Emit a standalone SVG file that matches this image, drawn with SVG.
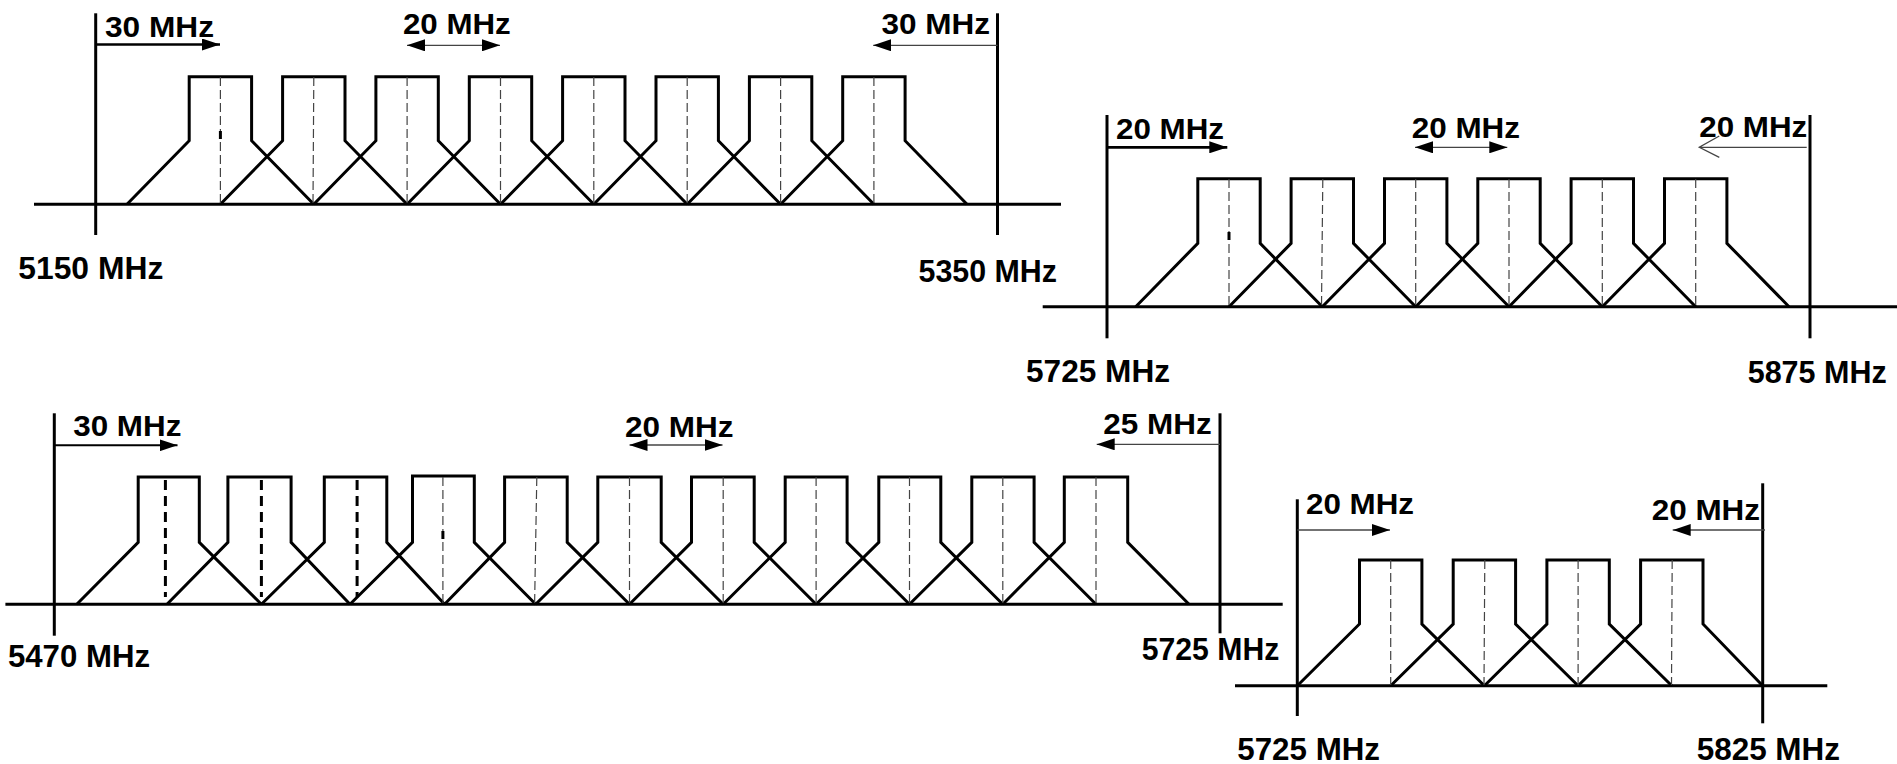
<svg xmlns="http://www.w3.org/2000/svg" width="1897" height="764" viewBox="0 0 1897 764">
<style>
.bg{fill:#fff}
.ax{stroke:#000;stroke-width:3;fill:none}
.ch{stroke:#000;stroke-width:3;fill:none;stroke-linejoin:miter}
.ds{stroke:#444;stroke-width:1.2;stroke-dasharray:9 4;fill:none}
.dsb{stroke:#000;stroke-width:3;stroke-dasharray:10 6;fill:none}
.mk{stroke:#000;stroke-width:3}
.ab{stroke:#000;stroke-width:2.7;fill:none}
.at{stroke:#444;stroke-width:1.3;fill:none}
.lb{font-family:"Liberation Sans",Arial,sans-serif;font-weight:bold;font-size:30px;fill:#000}
.fq{font-size:31px}
</style>
<defs>
<marker id="ah" markerUnits="userSpaceOnUse" markerWidth="18" markerHeight="12" refX="18" refY="6" orient="auto-start-reverse" viewBox="0 0 18 12">
<path d="M0,0 L18,6 L0,12 z" fill="#000"/>
</marker>
</defs>
<rect class="bg" x="0" y="0" width="1897" height="764"/>

<g id="band-5150-5350">
<line class="ax" x1="34" y1="204.3" x2="1061" y2="204.3"/>
<line class="ax" x1="95.7" y1="13.3" x2="95.7" y2="235"/>
<line class="ax" x1="997.5" y1="13.3" x2="997.5" y2="235"/>
<path class="ch" d="M127,204.3 L189.2,140.7 V76.7 H251.6 V140.7 L313.8,204.3"/>
<path class="ch" d="M220.4,204.3 L282.6,140.7 V76.7 H345 V140.7 L407.1,204.3"/>
<path class="ch" d="M313.8,204.3 L375.9,140.7 V76.7 H438.3 V140.7 L500.5,204.3"/>
<path class="ch" d="M407.1,204.3 L469.3,140.7 V76.7 H531.7 V140.7 L593.8,204.3"/>
<path class="ch" d="M500.5,204.3 L562.6,140.7 V76.7 H625 V140.7 L687.2,204.3"/>
<path class="ch" d="M593.8,204.3 L656,140.7 V76.7 H718.4 V140.7 L780.6,204.3"/>
<path class="ch" d="M687.2,204.3 L749.4,140.7 V76.7 H811.8 V140.7 L873.9,204.3"/>
<path class="ch" d="M780.6,204.3 L842.7,140.7 V76.7 H905.1 V140.7 L967,204.3"/>
<path class="ds" d="M220.4,77 V204 M313.8,77 L313,204 M407.1,77 V204 M500.5,77 V204 M593.8,77 V204 M687.2,77 V204 M780.6,77 V204 M873.9,77 V204"/>
<line class="mk" x1="220.4" y1="131" x2="220.4" y2="139"/>
<text class="lb fq" x="18.3" y="279.3" textLength="145" lengthAdjust="spacingAndGlyphs">5150 MHz</text>
<text class="lb fq" x="918.6" y="281.7" textLength="138.4" lengthAdjust="spacingAndGlyphs">5350 MHz</text>
<text class="lb" x="105" y="36.7" textLength="109" lengthAdjust="spacingAndGlyphs">30 MHz</text>
<text class="lb" x="402.9" y="34.3" textLength="107.8" lengthAdjust="spacingAndGlyphs">20 MHz</text>
<text class="lb" x="881.4" y="34.3" textLength="108.6" lengthAdjust="spacingAndGlyphs">30 MHz</text>
</g>

<g id="band-5725-5875">
<line class="ax" x1="1042.7" y1="306.7" x2="1897" y2="306.7"/>
<line class="ax" x1="1107" y1="115" x2="1107" y2="338.3"/>
<line class="ax" x1="1810" y1="115" x2="1810" y2="338.3"/>
<path class="ch" d="M1135.7,306.7 L1197.8,243.3 V178.7 H1260.2 V243.3 L1322.3,306.7"/>
<path class="ch" d="M1229,306.7 L1291.1,243.3 V178.7 H1353.5 V243.3 L1415.7,306.7"/>
<path class="ch" d="M1322.3,306.7 L1384.5,243.3 V178.7 H1446.9 V243.3 L1509,306.7"/>
<path class="ch" d="M1415.7,306.7 L1477.8,243.3 V178.7 H1540.2 V243.3 L1602.3,306.7"/>
<path class="ch" d="M1509,306.7 L1571.1,243.3 V178.7 H1633.5 V243.3 L1695.7,306.7"/>
<path class="ch" d="M1602.3,306.7 L1664.5,243.3 V178.7 H1726.9 V243.3 L1789,306.7"/>
<path class="ds" d="M1229,179 V306 M1322.8,179 L1321.5,306 M1415.7,179 V306 M1509,179 V306 M1602.3,179 V306 M1695.7,179 V306"/>
<line class="mk" x1="1229" y1="232" x2="1229" y2="240"/>
<text class="lb fq" x="1026" y="381.7" textLength="144" lengthAdjust="spacingAndGlyphs">5725 MHz</text>
<text class="lb fq" x="1747.7" y="383.3" textLength="139" lengthAdjust="spacingAndGlyphs">5875 MHz</text>
<text class="lb" x="1116" y="139.3" textLength="108" lengthAdjust="spacingAndGlyphs">20 MHz</text>
<text class="lb" x="1411.7" y="137.7" textLength="108.3" lengthAdjust="spacingAndGlyphs">20 MHz</text>
<text class="lb" x="1699.3" y="136.7" textLength="108" lengthAdjust="spacingAndGlyphs">20 MHz</text>
</g>

<g id="band-5470-5725">
<line class="ax" x1="5.4" y1="604.3" x2="1282.7" y2="604.3"/>
<line class="ax" x1="54.3" y1="413.3" x2="54.3" y2="635.7"/>
<line class="ax" x1="1220" y1="413.3" x2="1220" y2="633.3"/>
<path class="ch" d="M76.8,604.3 L138.2,542.3 V477 H199.3 V542.3 L261.4,604.3"/>
<path class="ch" d="M167,604.3 L227.9,542.3 V477 H291.1 V542.3 L350,604.3"/>
<path class="ch" d="M261.4,604.3 L324.3,542.3 V477 H386.8 V542.3 L444.6,604.3"/>
<path class="ch" d="M350,604.3 L412.5,542.3 V476 H474.3 V542.3 L535.7,604.3"/>
<path class="ch" d="M444.6,604.3 L504.6,542.3 V477 H567.2 V542.3 L629.5,604.3"/>
<path class="ch" d="M535.7,604.3 L597.8,542.3 V477 H661.2 V542.3 L723.2,604.3"/>
<path class="ch" d="M629.5,604.3 L691.5,542.3 V477 H754.2 V542.3 L816.1,604.3"/>
<path class="ch" d="M723.2,604.3 L785.2,542.3 V477 H847.1 V542.3 L909.5,604.3"/>
<path class="ch" d="M816.1,604.3 L878.8,542.3 V477 H940.8 V542.3 L1002.8,604.3"/>
<path class="ch" d="M909.5,604.3 L971.8,542.3 V477 H1034.1 V542.3 L1096,604.3"/>
<path class="ch" d="M1002.8,604.3 L1064.3,542.3 V477 H1127.7 V542.3 L1189,604.3"/>
<path class="dsb" d="M165.4,480 V597 M261.4,480 V597 M357.1,480 V597"/>
<path class="ds" d="M442.9,477 V604 M536.8,477 L534.6,604 M629.5,477 V604 M723.2,477 V604 M816.1,477 V604 M909.5,477 V604 M1002.8,477 V604 M1096,477 V604"/>
<line class="mk" x1="442.9" y1="531" x2="442.9" y2="539"/>
<text class="lb fq" x="7.9" y="666.7" textLength="142.1" lengthAdjust="spacingAndGlyphs">5470 MHz</text>
<text class="lb fq" x="1141.7" y="660" textLength="137.6" lengthAdjust="spacingAndGlyphs">5725 MHz</text>
<text class="lb" x="73.2" y="436" textLength="108.2" lengthAdjust="spacingAndGlyphs">30 MHz</text>
<text class="lb" x="625" y="437.3" textLength="108.5" lengthAdjust="spacingAndGlyphs">20 MHz</text>
<text class="lb" x="1103.3" y="434.3" textLength="108.4" lengthAdjust="spacingAndGlyphs">25 MHz</text>
</g>

<g id="band-5725-5825">
<line class="ax" x1="1235" y1="685.7" x2="1827.3" y2="685.7"/>
<line class="ax" x1="1297.3" y1="499.3" x2="1297.3" y2="716"/>
<line class="ax" x1="1762.7" y1="483.3" x2="1762.7" y2="723.3"/>
<path class="ch" d="M1297.3,685.7 L1359.5,624 V560 H1421.9 V624 L1484.4,685.7"/>
<path class="ch" d="M1390.7,685.7 L1453.2,624 V560 H1515.6 V624 L1578.1,685.7"/>
<path class="ch" d="M1484.4,685.7 L1546.9,624 V560 H1609.3 V624 L1671.8,685.7"/>
<path class="ch" d="M1578.1,685.7 L1640.6,624 V560 H1703 V624 L1762.7,685.7"/>
<path class="ds" d="M1390.7,560 V685 M1484.8,560 L1484,685 M1578.1,560 V685 M1672.2,560 L1671.5,685"/>
<text class="lb fq" x="1237.3" y="760" textLength="142.7" lengthAdjust="spacingAndGlyphs">5725 MHz</text>
<text class="lb fq" x="1696.7" y="760" textLength="143.3" lengthAdjust="spacingAndGlyphs">5825 MHz</text>
<text class="lb" x="1306" y="514.3" textLength="108" lengthAdjust="spacingAndGlyphs">20 MHz</text>
<text class="lb" x="1651.7" y="520" textLength="108.3" lengthAdjust="spacingAndGlyphs">20 MHz</text>
</g>

<g id="connectors">
<path class="ab" d="M95.7,44.5 H220" marker-end="url(#ah)"/>
<path class="at" d="M407,45.3 H500" marker-start="url(#ah)" marker-end="url(#ah)"/>
<path class="at" d="M997.5,45.3 H873.2" marker-end="url(#ah)"/>
<path class="ab" d="M1107,147.3 H1227.3" marker-end="url(#ah)"/>
<path class="at" d="M1415,147.3 H1507.3" marker-start="url(#ah)" marker-end="url(#ah)"/>
<path class="at" d="M1806.7,147.3 H1699.3 M1719.3,136 L1699.3,147.3 L1719.3,157.3"/>
<path class="ab" style="stroke-width:2" d="M54.3,445.3 H177.5" marker-end="url(#ah)"/>
<path class="at" d="M629.5,445 H722.5" marker-start="url(#ah)" marker-end="url(#ah)"/>
<path class="at" d="M1220,444.3 H1096.7" marker-end="url(#ah)"/>
<path class="at" d="M1297.3,530 H1390" marker-end="url(#ah)"/>
<path class="at" d="M1765,530 H1672.7" marker-end="url(#ah)"/>
</g>
</svg>
